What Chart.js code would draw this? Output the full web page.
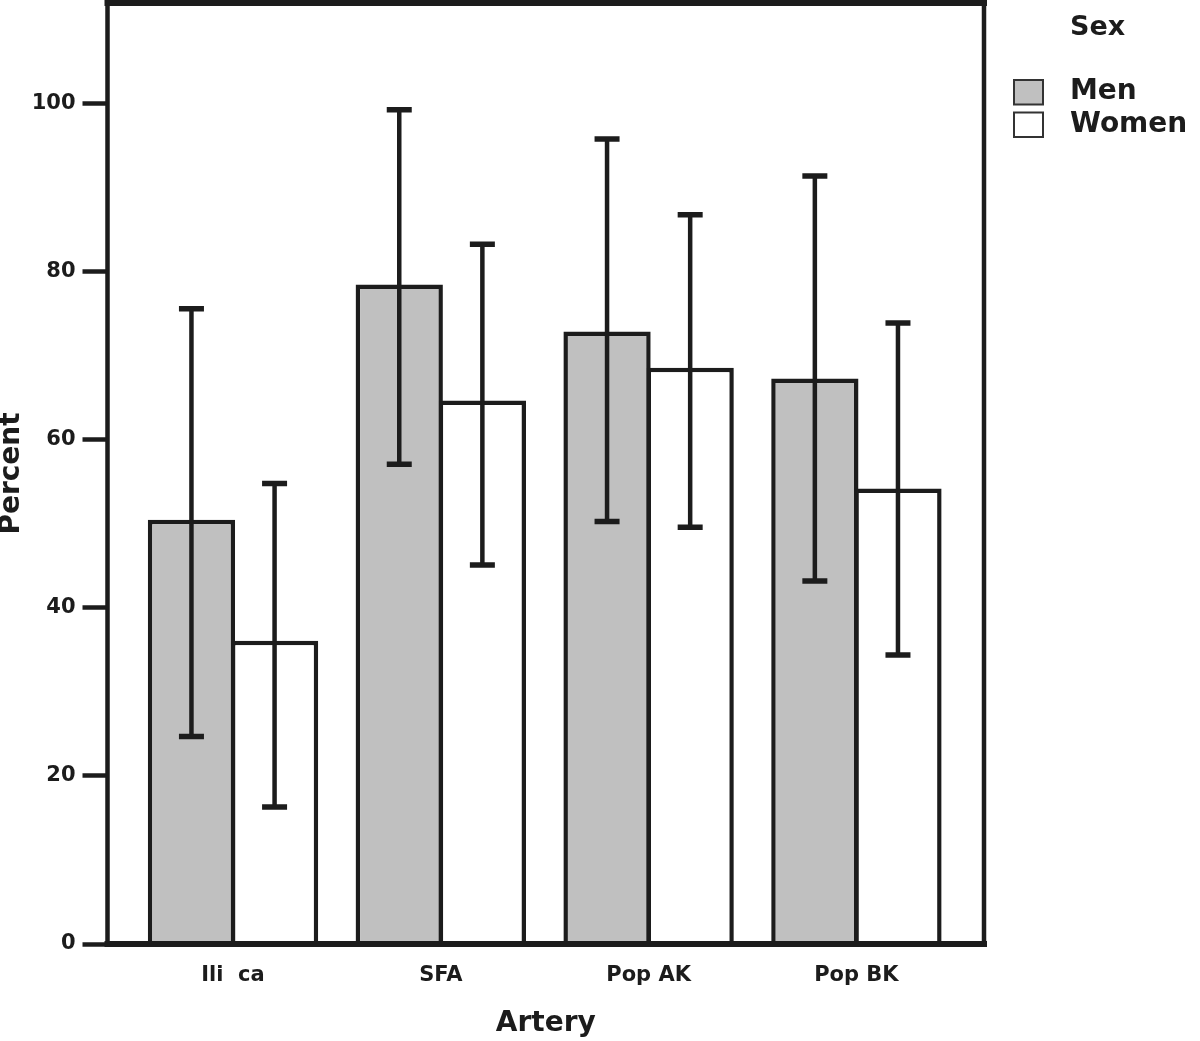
<!DOCTYPE html>
<html>
<head>
    <title>Artery by Sex</title>
    <script src="https://cdn.jsdelivr.net/npm/chart.js"></script>
    <style>
        body { margin: 0; background: #fff; }
    </style>
</head>
<body>
    <canvas id="arteryChart" width="1200" height="1041"></canvas>

    <script>
        // Values
        var categories = ['Ili  ca', 'SFA', 'Pop AK', 'Pop BK'];
        var menValues = [50.5, 78.5, 72.9, 67.3];
        var menLow = [24.7, 57.1, 50.3, 43.2];
        var menHigh = [75.6, 99.3, 95.8, 91.4];
        var womenValues = [36.1, 64.7, 68.6, 54.2];
        var womenLow = [16.3, 45.1, 49.6, 34.4];
        var womenHigh = [54.8, 83.3, 86.8, 73.9];
        var yTicks = [0, 20, 40, 60, 80, 100];

        var ink = '#1c1c1c';
        var font = 'DejaVu Sans';

        function points(values) {
            return values.map(function (v, i) {
                return { x: i, y: v };
            });
        }

        // Error bars drawn from the low/high arrays through the y scale
        var errorBars = {
            id: 'errorBars',
            afterDatasetsDraw: function (chart) {
                var ctx = chart.ctx;
                var yScale = chart.scales.y;
                ctx.save();
                ctx.strokeStyle = ink;
                chart.data.datasets.forEach(function (ds, di) {
                    var meta = chart.getDatasetMeta(di);
                    meta.data.forEach(function (bar, i) {
                        var top = yScale.getPixelForValue(ds.errHigh[i]);
                        var bottom = yScale.getPixelForValue(ds.errLow[i]);
                        ctx.lineWidth = 4.5;
                        ctx.beginPath();
                        ctx.moveTo(bar.x, top);
                        ctx.lineTo(bar.x, bottom);
                        ctx.stroke();
                        ctx.lineWidth = 5.5;
                        ctx.beginPath();
                        ctx.moveTo(bar.x - 12.5, top);
                        ctx.lineTo(bar.x + 12.5, top);
                        ctx.moveTo(bar.x - 12.5, bottom);
                        ctx.lineTo(bar.x + 12.5, bottom);
                        ctx.stroke();
                    });
                });
                ctx.restore();
            }
        };

        // Thick frame around the plot area
        var frame = {
            id: 'frame',
            afterDraw: function (chart) {
                var a = chart.chartArea;
                var ctx = chart.ctx;
                ctx.save();
                ctx.strokeStyle = ink;
                ctx.lineCap = 'square';
                ctx.lineWidth = 6;
                ctx.beginPath();
                ctx.moveTo(a.left, a.top); ctx.lineTo(a.right, a.top);
                ctx.moveTo(a.left, a.bottom); ctx.lineTo(a.right, a.bottom);
                ctx.stroke();
                ctx.lineWidth = 4.5;
                ctx.beginPath();
                ctx.moveTo(a.left, a.top); ctx.lineTo(a.left, a.bottom);
                ctx.moveTo(a.right, a.top); ctx.lineTo(a.right, a.bottom);
                ctx.stroke();
                ctx.restore();
            }
        };

        // Legend on the right, titled "Sex"
        var sexLegend = {
            id: 'sexLegend',
            afterDraw: function (chart) {
                var ctx = chart.ctx;
                ctx.save();
                ctx.fillStyle = ink;
                ctx.textBaseline = 'middle';
                ctx.textAlign = 'left';
                ctx.font = 'bold 27px "' + font + '"';
                ctx.fillText('Sex', 1070, 28);
                chart.data.datasets.forEach(function (ds, i) {
                    var y = 80 + i * 32.5;
                    ctx.fillStyle = ds.backgroundColor;
                    ctx.fillRect(1014, y, 29, 24.5);
                    ctx.lineWidth = 2;
                    ctx.strokeStyle = '#333';
                    ctx.strokeRect(1014, y, 29, 24.5);
                    ctx.fillStyle = ink;
                    ctx.font = 'bold 28px "' + font + '"';
                    ctx.fillText(ds.label, 1070, y + 12);
                });
                ctx.restore();
            }
        };

        var ctx = document.getElementById('arteryChart').getContext('2d');
        var chart = new Chart(ctx, {
            type: 'bar',
            data: {
                datasets: [{
                    label: 'Men',
                    data: points(menValues),
                    errLow: menLow,
                    errHigh: menHigh,
                    backgroundColor: '#c0c0c0',
                    borderColor: ink,
                    borderWidth: 4.5
                }, {
                    label: 'Women',
                    data: points(womenValues),
                    errLow: womenLow,
                    errHigh: womenHigh,
                    backgroundColor: '#ffffff',
                    borderColor: ink,
                    borderWidth: 4.5
                }]
            },
            options: {
                responsive: false,
                animation: false,
                devicePixelRatio: 1,
                categoryPercentage: 0.8,
                barPercentage: 1.05,
                layout: {
                    padding: { left: 0, top: 3, right: 216, bottom: 0 }
                },
                plugins: {
                    legend: { display: false },
                    tooltip: { enabled: false }
                },
                scales: {
                    x: {
                        type: 'linear',
                        offset: false,
                        min: -0.604,
                        max: 3.614,
                        afterFit: function (scale) {
                            scale.height = 97;
                            scale.paddingLeft = 0;
                            scale.paddingRight = 0;
                        },
                        afterBuildTicks: function (scale) {
                            scale.ticks = categories.map(function (c, i) {
                                return { value: i };
                            });
                        },
                        ticks: {
                            autoSkip: false,
                            maxRotation: 0,
                            padding: 19,
                            color: ink,
                            font: { family: font, size: 21, weight: 'bold' },
                            callback: function (value) {
                                return categories[value];
                            }
                        },
                        grid: { display: false, drawTicks: false },
                        border: { display: false },
                        title: {
                            display: true,
                            text: 'Artery',
                            color: ink,
                            padding: 0,
                            font: { family: font, size: 28, weight: 'bold' }
                        }
                    },
                    y: {
                        min: 0,
                        max: 112,
                        afterFit: function (scale) {
                            scale.width = 107.5;
                            scale.paddingTop = 0;
                            scale.paddingBottom = 0;
                        },
                        afterBuildTicks: function (scale) {
                            scale.ticks = yTicks.map(function (v) {
                                return { value: v };
                            });
                        },
                        ticks: {
                            padding: 7,
                            color: ink,
                            font: { family: font, size: 21, weight: 'bold' }
                        },
                        grid: {
                            drawOnChartArea: false,
                            tickLength: 25,
                            tickWidth: 4.5,
                            tickColor: ink
                        },
                        border: { display: false },
                        title: {
                            display: true,
                            text: 'Percent',
                            color: ink,
                            padding: 0,
                            font: { family: font, size: 28, weight: 'bold', lineHeight: 0.85 }
                        }
                    }
                }
            },
            plugins: [errorBars, frame, sexLegend]
        });
    </script>
</body>
</html>
